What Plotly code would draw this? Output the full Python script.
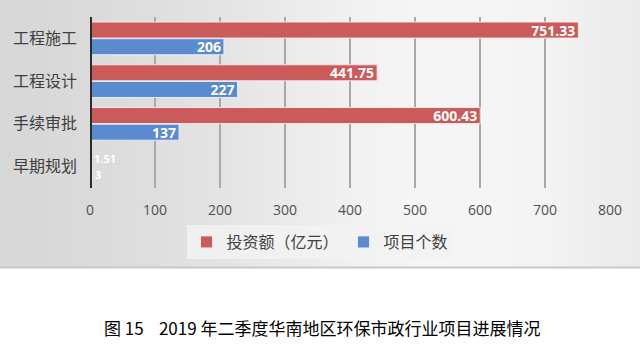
import plotly.graph_objects as go
import math

categories = ["工程施工", "工程设计", "手续审批", "早期规划"]
invest = [751.33, 441.75, 600.43, 1.51]
count = [206, 227, 137, 3]
invest_labels = ["751.33", "441.75", "600.43", "1.51"]
count_labels = ["206", "227", "137", "3"]
series_names = ["投资额（亿元）", "项目个数"]
tick_vals = [0, 100, 200, 300, 400, 500, 600, 700, 800]
caption = "图 15    2019 年二季度华南地区环保市政行业项目进展情况"

W, H = 640, 351
ml, mr, mt, mb = 90, 30, 17, 163
pw, ph = W - ml - mr, H - mt - mb

def px_x(p):
    return (p - ml) / pw

def px_y(p):
    return (H - mb - p) / ph

font_cjk = "Noto Sans CJK SC, Microsoft YaHei, sans-serif"
lbl_font = dict(color="white", size=[14, 14, 14, 11], family="Open Sans, sans-serif", weight="bold")

fig = go.Figure()
fig.add_trace(go.Bar(
    y=categories, x=invest, name=series_names[0], orientation="h",
    marker=dict(color="#CB5A5B", line=dict(color="rgba(255,235,235,0.9)", width=1)),
    text=invest_labels, textposition=["inside", "inside", "inside", "outside"],
    insidetextanchor="end", constraintext="none",
    textfont=lbl_font, cliponaxis=False,
))
fig.add_trace(go.Bar(
    y=categories, x=count, name=series_names[1], orientation="h",
    marker=dict(color="#5A8AD0", line=dict(color="rgba(235,242,255,0.9)", width=1)),
    text=count_labels, textposition=["inside", "inside", "inside", "outside"],
    insidetextanchor="end", constraintext="none",
    textfont=lbl_font, cliponaxis=False,
))

# gradient gray panel (stripes)
n = 64
for i in range(n):
    x0 = i * W / n
    x1 = (i + 1) * W / n
    t = (i + 0.5) / n
    v = 214 + 32 * math.exp(-((t - 0.72) / 0.42) ** 2)
    v = int(min(247, v))
    fig.add_shape(type="rect", xref="paper", yref="paper",
                  x0=px_x(x0), x1=px_x(x1 + 0.5), y0=px_y(267), y1=px_y(0),
                  fillcolor=f"rgb({v},{v},{v})", line=dict(width=0), layer="below")
fig.add_shape(type="line", xref="paper", yref="paper",
              x0=px_x(0), x1=px_x(W), y0=px_y(267.5), y1=px_y(267.5),
              line=dict(color="#C8C8C8", width=2), layer="below")
# dark zero axis line
fig.add_shape(type="line", xref="x", yref="paper", x0=0, x1=0, y0=0, y1=1,
              line=dict(color="#2B2B2B", width=4))

fig.add_annotation(text=caption, xref="paper", yref="paper",
                   x=px_x(322), y=px_y(327), xanchor="center", yanchor="middle",
                   showarrow=False, font=dict(size=17, color="#000000", family=font_cjk))

fig.update_layout(
    width=W, height=H,
    margin=dict(l=ml, r=mr, t=mt, b=mb),
    paper_bgcolor="white", plot_bgcolor="rgba(0,0,0,0)",
    barmode="group", bargap=0.22, bargroupgap=0.04,
    showlegend=True,
    legend=dict(orientation="h", x=px_x(320), xanchor="center", y=px_y(242), yanchor="middle",
                bgcolor="rgba(242,242,242,0.85)", font=dict(size=16, color="#404040", family=font_cjk),
                itemwidth=30, traceorder="normal"),
    font=dict(family=font_cjk),
)
fig.update_xaxes(range=[0, 800], tickvals=tick_vals, showgrid=True, gridcolor="#A8A8A8", gridwidth=1.5,
                 zeroline=False, showline=False, ticks="", ticklabelstandoff=12,
                 tickfont=dict(size=14, color="#505050", family="Open Sans, sans-serif"))
fig.update_yaxes(autorange="reversed", showgrid=False, zeroline=False, showline=False, ticks="",
                 ticklabelstandoff=12,
                 tickfont=dict(size=16, color="#404040", family=font_cjk))

fig.write_html("out.html")
